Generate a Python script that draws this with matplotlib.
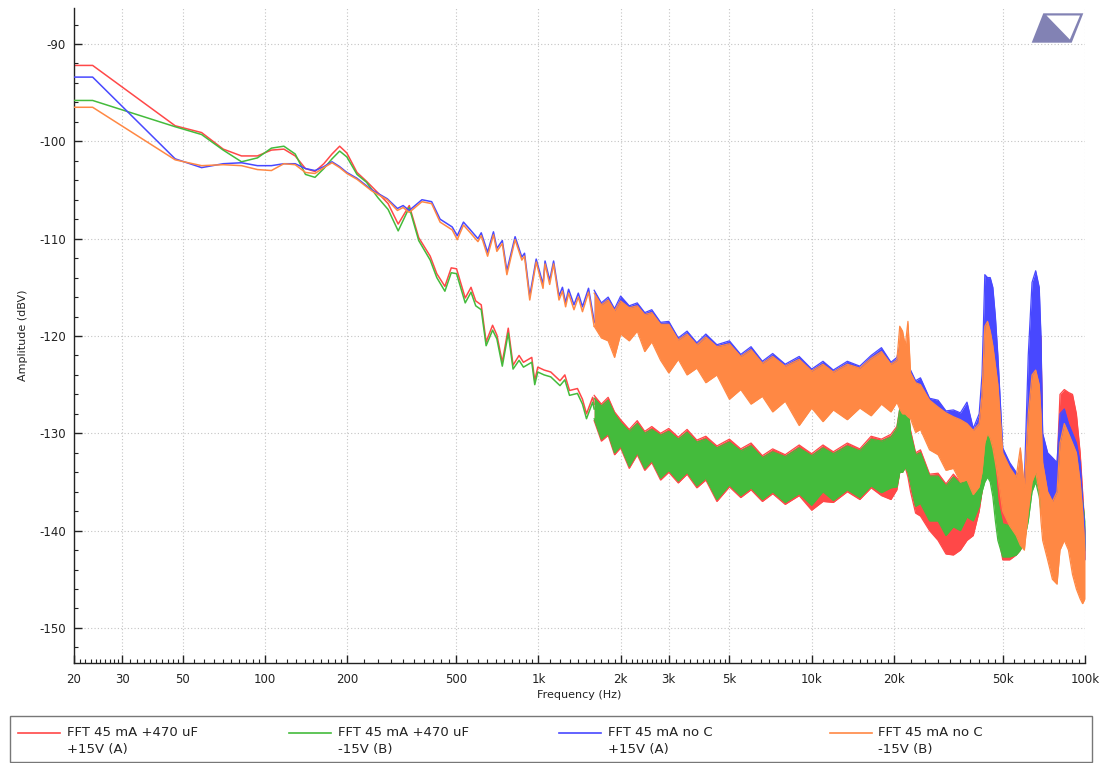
import matplotlib
matplotlib.use('Agg')
import matplotlib.pyplot as plt
from matplotlib.patches import Polygon, Rectangle
from matplotlib.lines import Line2D
from matplotlib.ticker import FixedLocator, FixedFormatter, MultipleLocator

plt.rcParams['axes.unicode_minus'] = False
plt.rcParams['font.family'] = ['DejaVu Sans']

# ---------------- data ----------------
labels = ["FFT 45 mA +470 uF\n+15V (A)", "FFT 45 mA +470 uF\n-15V (B)",
          "FFT 45 mA no C\n+15V (A)", "FFT 45 mA no C\n-15V (B)"]
colors = ['#ff4848', '#44bb3c', '#4848ff', '#ff8844']

# smooth (low-frequency) part, with 470 uF
fA_line = [20, 23.4, 46.9, 58.6, 70.3, 82.0, 93.8, 105.5, 117.2, 128.9,
           140.6, 152.3, 164.1, 175.8, 187.5, 199.2, 217, 235, 259, 282,
           307, 337, 365, 402, 425, 455, 480, 502, 540, 567,
           590, 618, 644, 680, 705, 738, 776, 808, 850, 882,
           946, 970, 995, 1050, 1110, 1200, 1250, 1300, 1390, 1450,
           1500, 1580, 1600]
red_line = [-92.2, -92.2, -98.4, -99.1, -100.8, -101.5, -101.5, -100.9, -100.8, -101.5,
            -102.8, -103.1, -102.3, -101.3, -100.5, -101.2, -103.2, -104.1, -105.3, -106.4,
            -108.5, -106.6, -109.9, -111.8, -113.6, -114.9, -113.0, -113.1, -116.1, -115.0,
            -116.4, -116.8, -120.6, -118.9, -119.9, -122.7, -119.2, -123.0, -122.0, -122.7,
            -122.2, -124.6, -123.2, -123.5, -123.7, -124.6, -124.0, -125.6, -125.4, -126.5,
            -128.0, -126.3, -127.0]
green_line = [-95.8, -95.8, -98.5, -99.3, -100.9, -102.1, -101.7, -100.7, -100.5, -101.3,
              -103.4, -103.7, -102.8, -101.8, -101.0, -101.6, -103.4, -104.2, -105.8, -107.0,
              -109.2, -106.8, -110.2, -112.2, -114.0, -115.4, -113.5, -113.6, -116.6, -115.5,
              -116.9, -117.3, -121.0, -119.4, -120.3, -123.1, -119.7, -123.4, -122.5, -123.2,
              -122.7, -125.0, -123.7, -124.0, -124.2, -125.1, -124.5, -126.1, -125.9, -127.0,
              -128.5, -126.8, -127.5]

# smooth (low-frequency) part, no C
fB_line = [20, 23.4, 46.9, 58.6, 70.3, 82.0, 93.8, 105.5, 117.2, 128.9,
           140.6, 152.3, 164.1, 175.8, 187.5, 199.2, 217, 246, 280, 305,
           320, 337, 375, 407, 437, 460, 484, 505, 532, 560,
           601, 618, 652, 685, 705, 738, 767, 822, 870, 890,
           930, 982, 1040, 1058, 1100, 1137, 1190, 1225, 1258, 1290,
           1350, 1400, 1450, 1526, 1600]
blue_line = [-93.4, -93.4, -101.8, -102.7, -102.3, -102.2, -102.5, -102.5, -102.3, -102.3,
             -102.8, -103.0, -102.6, -102.1, -102.6, -103.2, -103.8, -105.0, -105.9, -106.9,
             -106.6, -107.1, -106.0, -106.2, -108.0, -108.4, -108.8, -109.7, -108.3, -109.0,
             -110.0, -109.4, -111.4, -109.3, -111.0, -110.2, -113.3, -109.8, -111.9, -111.5,
             -115.9, -112.1, -114.7, -112.3, -114.3, -112.3, -115.9, -115.0, -116.6, -115.2,
             -116.8, -115.6, -117.0, -115.1, -118.5]
orange_line = [-96.5, -96.5, -101.9, -102.5, -102.4, -102.5, -102.9, -103.0, -102.3, -102.4,
               -103.2, -103.3, -102.7, -102.2, -102.7, -103.3, -103.9, -105.1, -106.0, -107.1,
               -106.8, -107.3, -106.2, -106.4, -108.3, -108.7, -109.1, -110.1, -108.6, -109.3,
               -110.3, -109.7, -111.8, -109.6, -111.3, -110.5, -113.7, -110.1, -112.2, -111.8,
               -116.3, -112.4, -115.1, -112.6, -114.7, -112.6, -116.3, -115.4, -117.0, -115.6,
               -117.3, -116.0, -117.5, -115.5, -119.0]

# noisy (high-frequency) part: upper / lower envelope of each trace
band_f = [1600, 1700, 1800, 1900, 2000, 2150, 2300, 2450, 2600, 2800,
          3000, 3250, 3500, 3800, 4100, 4500, 5000, 5500, 6000, 6600,
          7200, 8000, 9000, 10000, 11000, 12000, 13500, 15000, 16500, 18000,
          19500, 20500, 21000, 21500, 22000, 22500, 23000, 24000, 25000, 27000,
          29000, 31000, 33000, 35000, 37000, 39000, 41000, 42000, 43000, 44000,
          45000, 46000, 47000, 48000, 50000, 53000, 56000, 58000, 60000, 62000,
          64000, 66000, 68000, 69000, 70000, 73000, 76000, 79000, 81000, 84000,
          87000, 90000, 93000, 96000, 98000, 100000]

red_hi = [-126.1, -127.0, -126.3, -127.8, -128.6, -129.6, -128.7, -129.8, -129.3, -130.0,
          -129.5, -130.4, -129.6, -130.7, -130.3, -131.3, -130.6, -131.6, -131.0, -132.3,
          -131.6, -132.2, -131.2, -132.1, -131.2, -131.9, -131.0, -131.6, -130.3, -130.6,
          -130.1, -129.3, -127.5, -128.0, -126.8, -127.5, -129.7, -132.0, -131.7, -134.2,
          -134.1, -135.2, -134.2, -135.0, -134.3, -135.3, -133.0, -129.5, -120.0, -119.0,
          -121.0, -123.0, -126.0, -131.0, -137.5, -138.0, -138.5, -139.0, -138.0, -130.0,
          -122.0, -121.0, -121.5, -120.0, -131.0, -133.0, -133.0, -133.5, -126.0, -125.5,
          -125.8, -126.0, -128.0, -132.0, -136.0, -140.0]
red_lo = [-128.7, -130.8, -130.2, -132.2, -131.5, -133.6, -132.2, -133.8, -133.0, -134.8,
          -134.0, -135.1, -134.2, -135.6, -134.8, -137.0, -135.5, -136.6, -135.8, -137.0,
          -136.2, -137.3, -136.4, -137.9, -137.0, -137.1, -136.0, -136.8, -135.6, -136.4,
          -136.8, -135.8, -134.0, -134.0, -133.5, -134.5, -136.0, -138.2, -138.5, -140.0,
          -141.0, -142.4, -142.5, -142.0, -141.0, -140.5, -138.0, -136.0, -132.0, -131.0,
          -132.0, -134.0, -137.0, -140.0, -143.0, -143.0, -142.5, -142.0, -141.0, -138.0,
          -134.0, -133.0, -135.0, -136.0, -138.5, -139.0, -139.5, -140.0, -138.0, -137.0,
          -138.0, -139.0, -140.5, -142.0, -142.5, -143.0]
green_hi = [-126.4, -127.2, -126.6, -128.0, -128.9, -129.8, -129.0, -130.0, -129.6, -130.2,
            -129.8, -130.6, -129.9, -130.9, -130.6, -131.5, -130.9, -131.8, -131.3, -132.5,
            -131.9, -132.4, -131.5, -132.3, -131.5, -132.1, -131.3, -131.8, -130.6, -130.8,
            -130.4, -129.5, -127.5, -128.0, -126.7, -127.2, -130.0, -132.2, -132.0, -134.4,
            -134.4, -135.4, -134.5, -135.2, -134.6, -135.5, -133.5, -130.2, -129.5, -129.5,
            -130.0, -131.5, -134.0, -137.0, -139.3, -139.5, -139.5, -139.5, -138.5, -132.0,
            -127.0, -126.0, -127.0, -128.0, -131.5, -133.5, -133.5, -133.8, -130.0, -130.0,
            -130.5, -131.0, -132.0, -134.0, -137.0, -139.0]
green_lo = [-128.5, -130.6, -130.0, -132.0, -131.3, -133.4, -132.0, -133.6, -132.8, -134.6,
            -133.8, -134.9, -134.0, -135.4, -134.6, -136.8, -135.3, -136.4, -135.6, -136.8,
            -136.0, -137.1, -136.2, -137.4, -136.0, -136.9, -135.8, -136.6, -135.4, -136.1,
            -135.6, -135.5, -134.0, -134.0, -133.5, -134.0, -135.2, -137.5, -137.2, -139.0,
            -139.0, -140.5, -139.6, -140.0, -138.6, -139.0, -137.5, -136.0, -135.0, -134.5,
            -135.0, -136.5, -139.0, -141.0, -142.7, -142.7, -142.5, -142.0, -141.0, -139.0,
            -136.0, -135.0, -136.5, -138.0, -138.0, -138.5, -139.0, -139.5, -139.0, -138.5,
            -139.0, -140.0, -141.0, -142.0, -142.5, -142.0]
blue_hi = [-115.3, -116.6, -116.0, -117.2, -115.9, -116.9, -116.6, -117.6, -117.3, -118.6,
           -118.5, -120.2, -119.5, -120.7, -119.8, -120.9, -120.5, -121.9, -121.1, -122.6,
           -121.8, -122.9, -122.1, -123.4, -122.6, -123.5, -122.6, -123.1, -122.0, -121.2,
           -122.7, -122.2, -121.0, -123.0, -123.0, -123.0, -123.5, -124.6, -124.3, -126.4,
           -126.6, -127.7, -127.6, -127.9, -126.8, -129.5, -128.0, -124.0, -113.7, -114.0,
           -114.0, -115.0, -118.0, -122.0, -131.5, -133.0, -134.0, -134.5, -135.0, -122.0,
           -114.5, -113.3, -115.0, -120.0, -130.0, -132.0, -132.5, -133.0, -128.0, -127.5,
           -129.0, -130.0, -131.0, -133.0, -137.0, -140.0]
blue_lo = [-118.5, -119.7, -120.0, -121.7, -119.3, -120.0, -119.0, -121.1, -120.1, -122.0,
           -123.3, -121.9, -123.5, -122.8, -124.3, -123.5, -126.0, -125.0, -126.5, -125.7,
           -127.3, -126.2, -128.7, -126.9, -128.3, -127.1, -128.1, -126.9, -127.7, -126.5,
           -127.3, -126.3, -127.0, -127.5, -127.5, -127.8, -128.0, -129.4, -129.1, -131.2,
           -131.7, -133.3, -133.1, -134.5, -134.3, -135.8, -135.0, -133.0, -125.0, -124.0,
           -125.0, -126.0, -128.0, -131.0, -136.5, -138.0, -139.0, -140.0, -140.5, -132.0,
           -124.0, -124.0, -126.0, -130.0, -137.0, -139.5, -140.0, -140.5, -138.0, -137.0,
           -138.0, -140.0, -142.0, -143.0, -143.0, -143.0]
orange_hi = [-115.6, -116.8, -116.3, -117.4, -116.4, -117.1, -116.9, -117.8, -117.6, -118.8,
             -118.8, -120.4, -119.8, -120.9, -120.1, -121.1, -120.8, -122.1, -121.4, -122.8,
             -122.1, -123.1, -122.4, -123.6, -122.9, -123.7, -122.9, -123.3, -122.3, -121.6,
             -122.9, -122.5, -119.0, -119.5, -121.0, -118.5, -123.8, -124.8, -125.0, -126.6,
             -127.3, -127.9, -128.3, -128.6, -129.0, -129.7, -129.0, -126.0, -119.0, -118.5,
             -119.5, -121.0, -123.0, -125.0, -132.0, -133.5, -134.5, -131.5, -135.5, -128.0,
             -124.0, -123.5, -125.0, -128.0, -133.0, -136.0, -137.0, -136.0, -131.0, -129.0,
             -130.0, -131.0, -132.0, -135.0, -138.0, -142.0]
orange_lo = [-119.0, -120.2, -120.5, -122.2, -119.8, -120.5, -119.5, -121.6, -120.6, -122.5,
             -123.8, -122.4, -124.0, -123.3, -124.8, -124.0, -126.5, -125.5, -127.0, -126.2,
             -127.8, -126.7, -129.2, -127.4, -128.8, -127.6, -128.6, -127.4, -128.2, -127.0,
             -127.8, -126.8, -127.5, -128.0, -128.0, -128.3, -128.5, -129.9, -129.6, -131.7,
             -132.2, -133.8, -133.6, -135.0, -134.8, -136.3, -135.5, -134.0, -131.0, -130.0,
             -130.5, -131.5, -133.0, -134.5, -138.0, -139.5, -140.5, -141.5, -142.0, -138.0,
             -135.0, -134.0, -136.0, -139.0, -141.0, -143.0, -145.0, -145.5, -142.0, -141.0,
             -142.0, -144.5, -146.0, -147.0, -147.5, -147.0]

x_major = [20, 30, 50, 100, 200, 500, 1000, 2000, 3000, 5000, 10000, 20000, 50000, 100000]
x_major_labels = ['20', '30', '50', '100', '200', '500', '1k', '2k', '3k', '5k',
                  '10k', '20k', '50k', '100k']
y_major = [-150, -140, -130, -120, -110, -100, -90]

# ---------------- figure ----------------
W, H = 1102, 763
fig = plt.figure(figsize=(W / 100, H / 100), dpi=100)
ax = fig.add_axes([74 / W, 1 - 663 / H, (1085 - 74) / W, (663 - 8) / H])

series = [
    (fA_line, red_line, red_hi, red_lo, colors[0]),
    (fA_line, green_line, green_hi, green_lo, colors[1]),
    (fB_line, blue_line, blue_hi, blue_lo, colors[2]),
    (fB_line, orange_line, orange_hi, orange_lo, colors[3]),
]
for i, (fl, vl, hi, lo, c) in enumerate(series):
    z = 2 + i
    ax.plot(fl, vl, color=c, lw=1.1, zorder=z)
    ax.fill_between(band_f, lo, hi, color=c, lw=0, zorder=z)
    ax.plot(band_f, hi, color=c, lw=0.9, zorder=z)
    ax.plot(band_f, lo, color=c, lw=0.9, zorder=z)

ax.set_xscale('log')
ax.set_xlim(20, 100000)
ax.set_ylim(-153.6, -86.3)

minor = []
for a, b in zip(x_major[:-1], x_major[1:]):
    for k in range(1, 10):
        minor.append(a + k * (b - a) / 10)
ax.xaxis.set_major_locator(FixedLocator(x_major))
ax.xaxis.set_major_formatter(FixedFormatter(x_major_labels))
ax.xaxis.set_minor_locator(FixedLocator(minor))
ax.xaxis.set_minor_formatter(FixedFormatter([''] * len(minor)))
ax.yaxis.set_major_locator(FixedLocator(y_major))
ax.yaxis.set_minor_locator(MultipleLocator(2))

ax.tick_params(axis='both', which='major', direction='in', length=6, width=1,
               labelsize=8.5, color='#222222', labelcolor='#222222')
ax.tick_params(axis='both', which='minor', direction='in', length=3, width=0.8,
               color='#222222')
ax.tick_params(axis='x', which='major', pad=7)
ax.tick_params(axis='y', which='major', pad=6)

ax.grid(True, which='major', color='#c4c4c4', linestyle=(0, (1, 2)), linewidth=0.8)
ax.set_axisbelow(True)
for s in ['top', 'right']:
    ax.spines[s].set_visible(False)
for s in ['left', 'bottom']:
    ax.spines[s].set_color('#222222')
    ax.spines[s].set_linewidth(1.0)

ax.set_xlabel('Frequency (Hz)', fontsize=8, color='#222222', labelpad=3)
ax.set_ylabel('Amplitude (dBV)', fontsize=8, color='#222222', labelpad=8)

# logo (top right)
def fp(x, y):
    return (x / W, 1 - y / H)

logo = Polygon([fp(1031.7, 42.7), fp(1043.3, 13.3), fp(1083.3, 13.3), fp(1071.7, 42.7)],
               closed=True, transform=fig.transFigure, facecolor='#8282b4',
               edgecolor='none', zorder=10)
fig.add_artist(logo)
tri = Polygon([fp(1046.5, 15.5), fp(1080.0, 15.5), fp(1069.8, 39.5)],
              closed=True, transform=fig.transFigure, facecolor='white',
              edgecolor='none', zorder=11)
fig.add_artist(tri)

# legend box (manual, below the plot)
box = Rectangle(fp(10, 762), (1092 - 10) / W, (762 - 716) / H, transform=fig.transFigure,
                facecolor='white', edgecolor='#777777', linewidth=1.0)
fig.add_artist(box)
for i, (lab, c) in enumerate(zip(labels, colors)):
    x0 = 18 + i * 270.5
    fig.add_artist(Line2D([x0 / W, (x0 + 42) / W], [1 - 733 / H, 1 - 733 / H],
                          transform=fig.transFigure, color=c, lw=1.2))
    l1, l2 = lab.split('\n')
    fig.text((x0 + 49) / W, 1 - 733 / H, l1, fontsize=9.5, va='center', ha='left',
             color='#222222')
    fig.text((x0 + 49) / W, 1 - 750 / H, l2, fontsize=9.5, va='center', ha='left',
             color='#222222')

fig.savefig('out.png', dpi=100)
